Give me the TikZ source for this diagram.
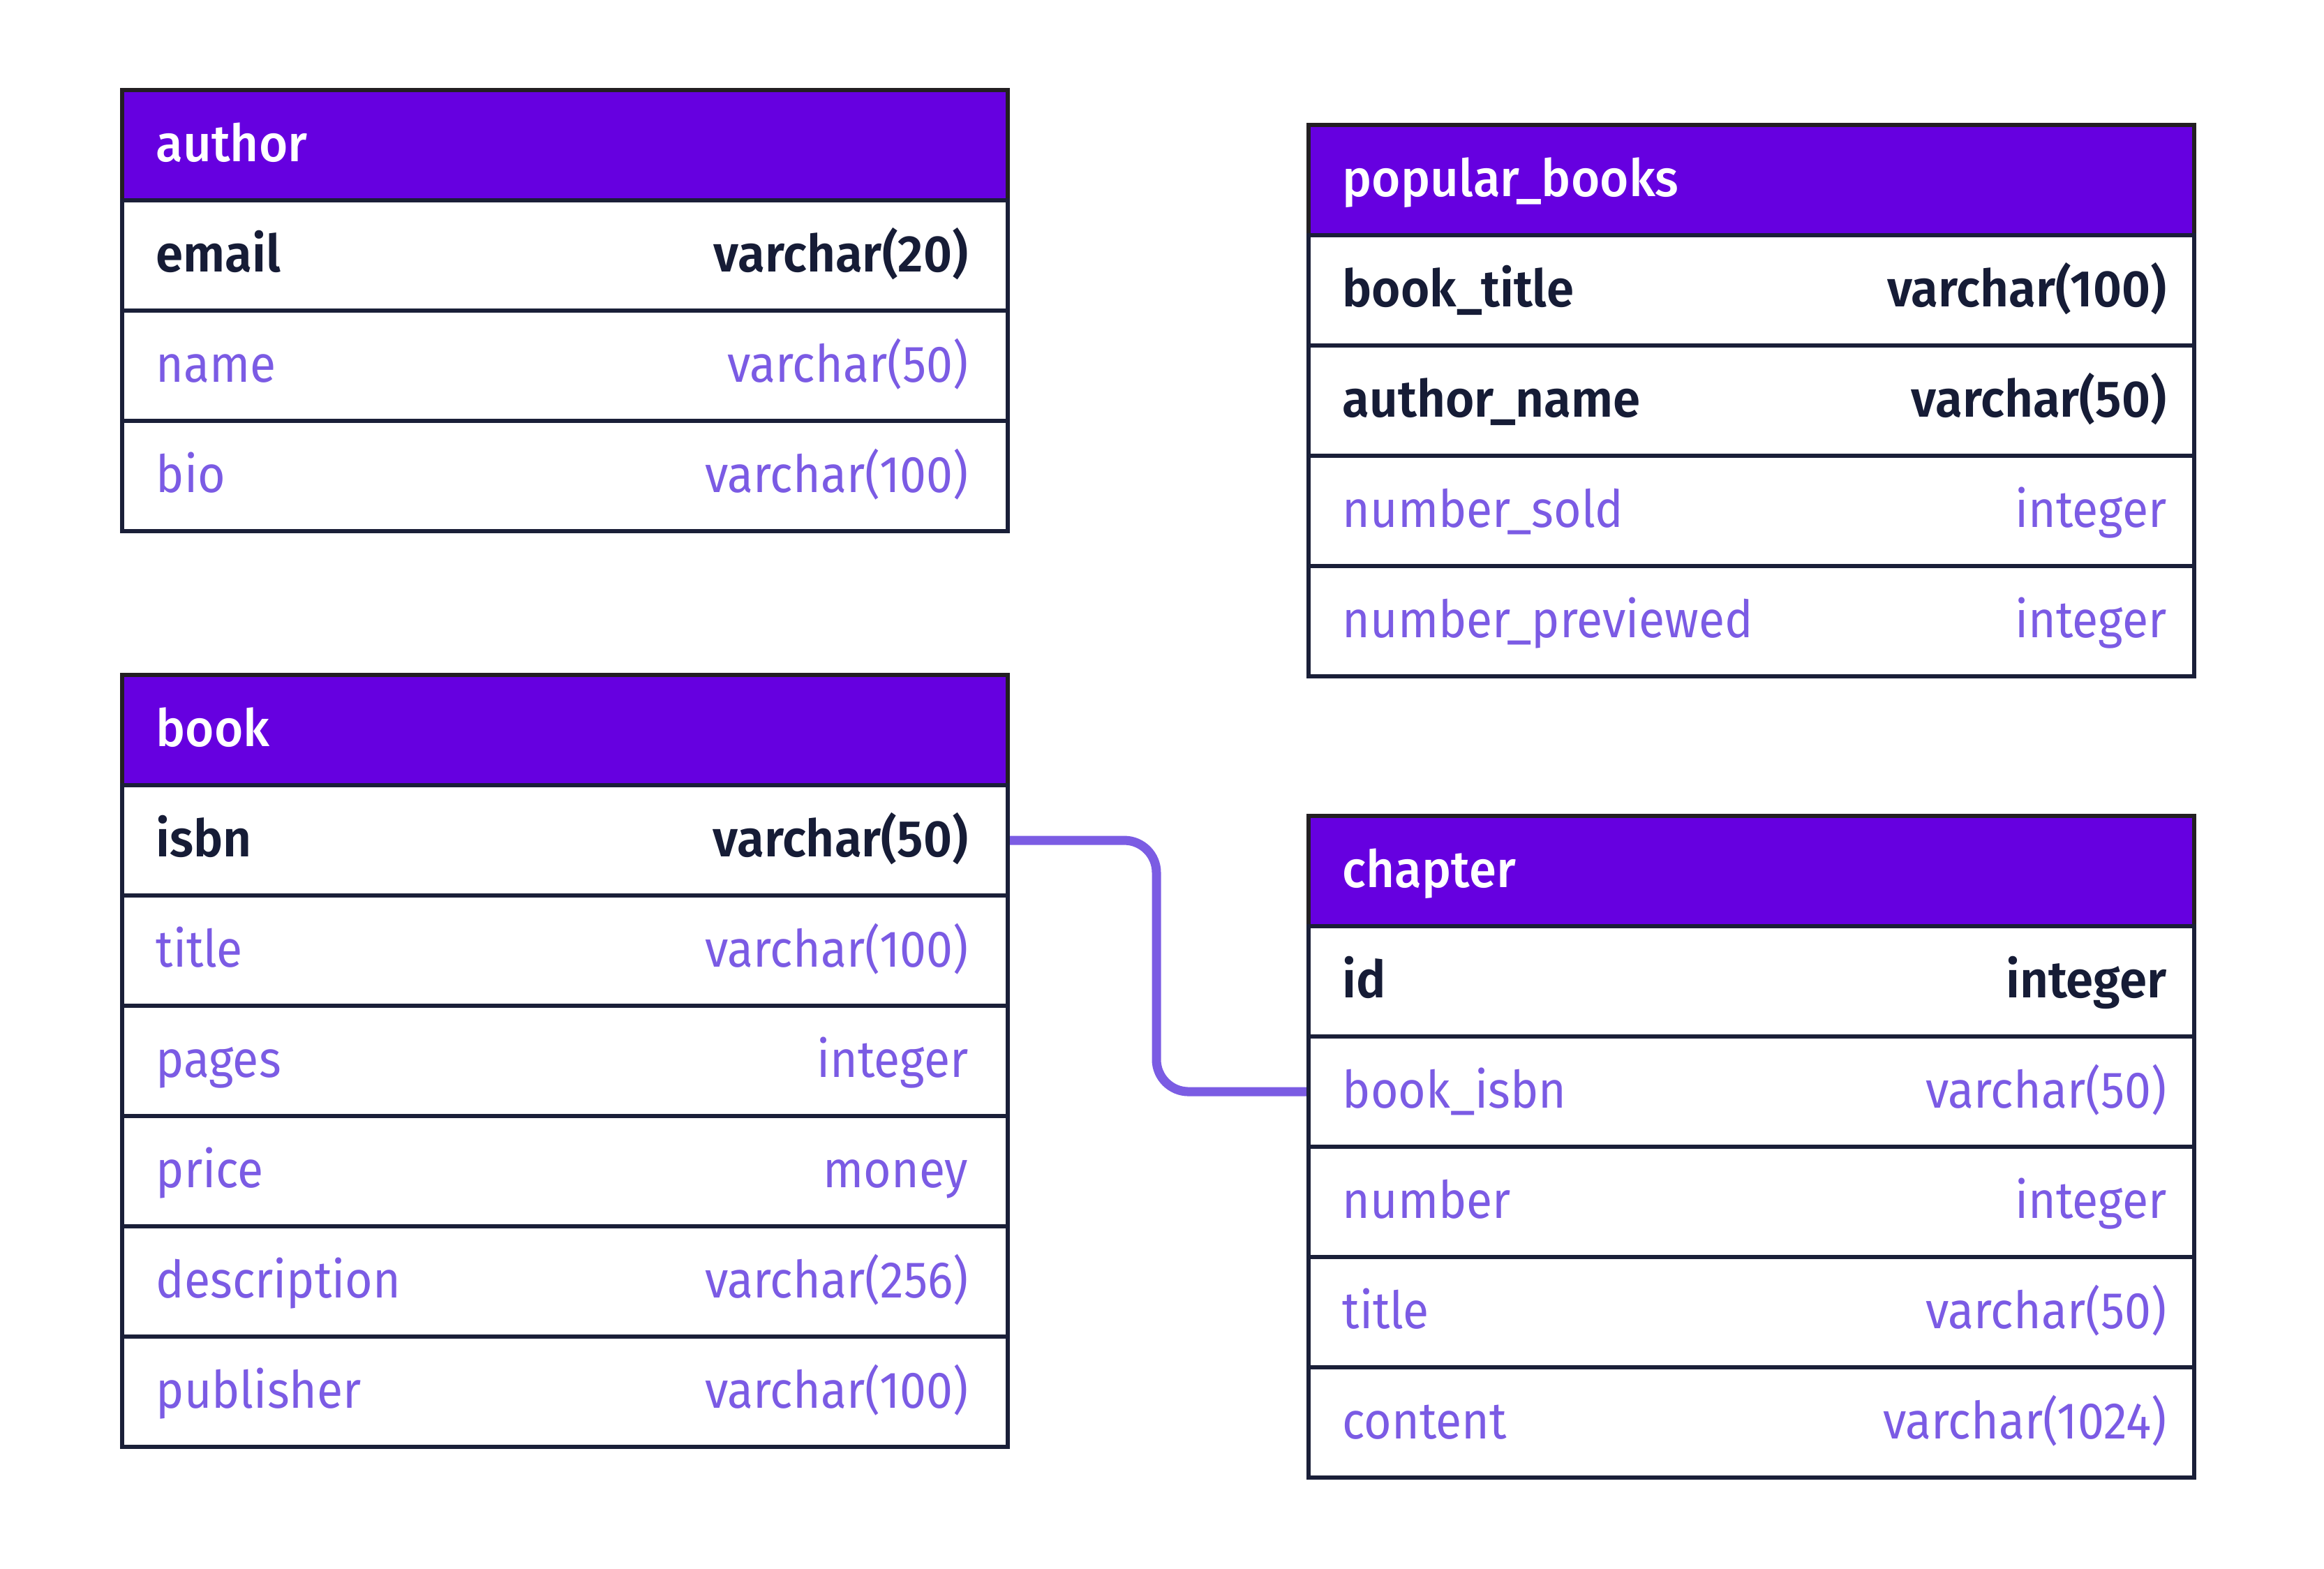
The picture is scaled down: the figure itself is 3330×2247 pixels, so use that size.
\documentclass[tikz,border=0pt]{standalone}
\usepackage{fontspec}
\setmainfont{Fira Sans}[FakeStretch=0.92, BoldFont={Fira Sans SemiBold}, BoldFeatures={FakeStretch=0.96}]
\newfontfamily\hdrfont{Fira Sans Medium}[FakeStretch=0.96]
\definecolor{hdrfill}{HTML}{6600E0}
\definecolor{hdrline}{HTML}{231F22}
\definecolor{rowline}{HTML}{1A1F38}
\definecolor{darktxt}{HTML}{161C36}
\definecolor{lighttxt}{HTML}{7B5BE4}
\definecolor{linkcol}{HTML}{7B5CE3}
\pgfdeclarelayer{paper}
\pgfdeclarelayer{bg}
\pgfsetlayers{paper,bg,main}
\tikzset{
  hdr/.style={draw=hdrline, fill=hdrfill, line width=0.06cm, minimum width=12.68cm, minimum height=1.58cm, inner sep=0pt, outer sep=0pt, anchor=north west},
  rowbox/.style={draw=rowline, fill=white, line width=0.06cm, minimum width=12.68cm, minimum height=1.58cm, inner sep=0pt, outer sep=0pt, anchor=north west},
  txt/.style={inner sep=0pt, font=\fontsize{21pt}{26pt}\selectfont},
  hdrtxt/.style={txt, text=white, font=\fontsize{21pt}{26pt}\selectfont\hdrfont, anchor=base west},
  keyname/.style={txt, text=darktxt, font=\fontsize{21pt}{26pt}\selectfont\bfseries, anchor=base west},
  keytype/.style={txt, text=darktxt, font=\fontsize{21pt}{26pt}\selectfont\bfseries, anchor=base east},
  colname/.style={txt, text=lighttxt, anchor=base west},
  coltype/.style={txt, text=lighttxt, anchor=base east},
  link/.style={draw=linkcol, line width=0.13cm, rounded corners=0.46cm}
}
% #1 node name, #2 left x, #3 top y, #4 title
\newcommand\ertablehead[4]{%
  \node[hdr] (#1) at (#2,#3) {};
  \node[hdrtxt] (#1-title) at (#2+48,#3+102) {#4};
}
% #1 node name, #2 left x, #3 top y, #4 field, #5 type, #6 key or col, #7 right text offset
\newcommand\ertablerow[7]{%
  \node[rowbox] (#1) at (#2,#3) {};
  \node[#6name] (#1-name) at (#2+48,#3+102) {#4};
  \node[#6type] (#1-type) at (#2+1268-#7,#3+102) {#5};
}
\begin{document}
\begin{tikzpicture}[x=0.01cm, y=-0.01cm]
\begin{pgfonlayer}{paper}
\useasboundingbox[fill=white] (0,0) rectangle (3330,2247);
\end{pgfonlayer}

% author
\ertablehead{author}{175}{129}{author}
\ertablerow{author-email}{175}{287}{email}{varchar(20)}{key}{55}
\ertablerow{author-name}{175}{445}{name}{varchar(50)}{col}{55}
\ertablerow{author-bio}{175}{603}{bio}{varchar(100)}{col}{55}

% popular_books
\ertablehead{popular}{1875}{179}{popular\_books}
\ertablerow{popular-title}{1875}{337}{book\_title}{varchar(100)}{key}{38}
\ertablerow{popular-author}{1875}{495}{author\_name}{varchar(50)}{key}{38}
\ertablerow{popular-sold}{1875}{653}{number\_sold}{integer}{col}{38}
\ertablerow{popular-previewed}{1875}{811}{number\_previewed}{integer}{col}{38}

% book
\ertablehead{book}{175}{967}{book}
\ertablerow{book-isbn}{175}{1125}{isbn}{varchar(50)}{key}{55}
\ertablerow{book-title}{175}{1283}{title}{varchar(100)}{col}{55}
\ertablerow{book-pages}{175}{1441}{pages}{integer}{col}{55}
\ertablerow{book-price}{175}{1599}{price}{money}{col}{55}
\ertablerow{book-description}{175}{1757}{description}{varchar(256)}{col}{55}
\ertablerow{book-publisher}{175}{1915}{publisher}{varchar(100)}{col}{55}

% chapter
\ertablehead{chapter}{1875}{1169}{chapter}
\ertablerow{chapter-id}{1875}{1327}{id}{integer}{key}{38}
\ertablerow{chapter-bookisbn}{1875}{1485}{book\_isbn}{varchar(50)}{col}{38}
\ertablerow{chapter-number}{1875}{1643}{number}{integer}{col}{38}
\ertablerow{chapter-title}{1875}{1801}{title}{varchar(50)}{col}{38}
\ertablerow{chapter-content}{1875}{1959}{content}{varchar(1024)}{col}{38}

% connector
\coordinate (bend) at (1657,1384);
\begin{pgfonlayer}{bg}
\draw[link] (book-isbn.east) -| (bend) |- (chapter-bookisbn.west);
\end{pgfonlayer}
\end{tikzpicture}
\end{document}
